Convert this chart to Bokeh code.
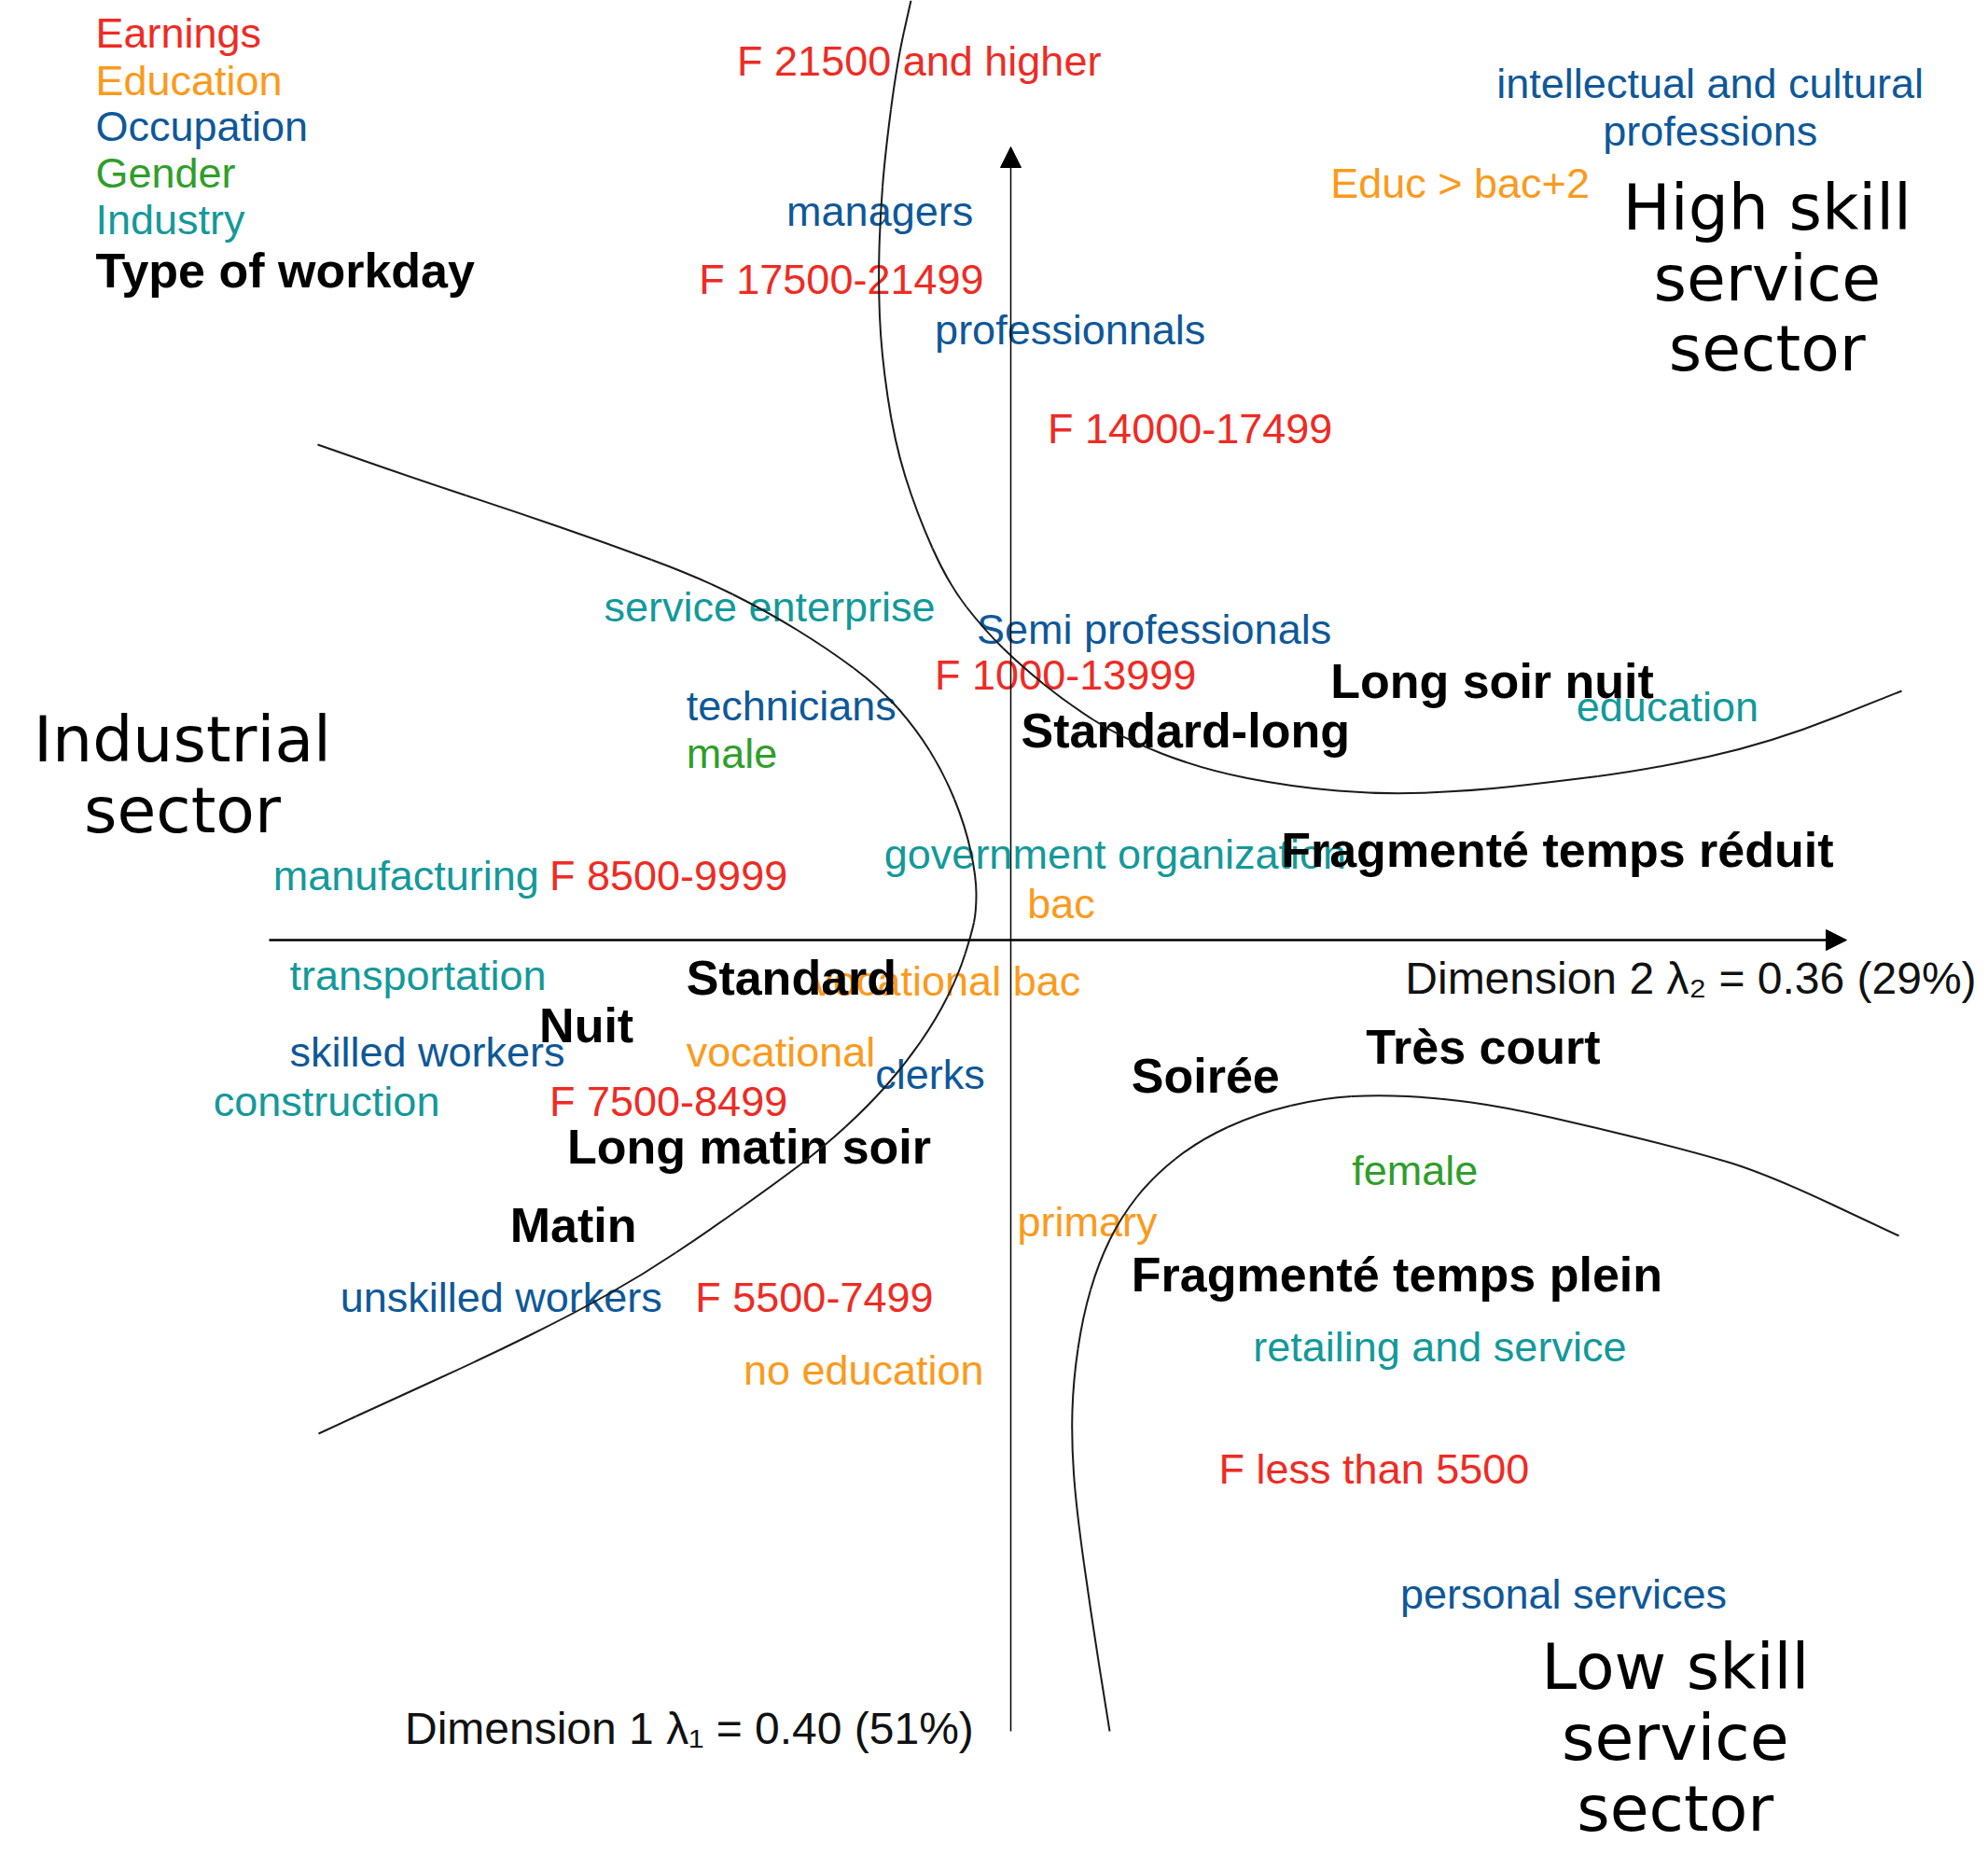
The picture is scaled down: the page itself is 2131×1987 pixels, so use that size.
from bokeh.plotting import figure
from bokeh.models import Range1d, Arrow, NormalHead, ColumnDataSource
from bokeh.core.properties import value
from bokeh.embed import file_html
from bokeh.resources import INLINE

RED = "#ee2b24"
ORANGE = "#fb9a1c"
BLUE = "#0e5899"
GREEN = "#2f9e2a"
TEAL = "#13999a"
BLACK = "#000000"

FONT = "Liberation Sans"
SECTOR_FONT = "DejaVu Sans"

# ---------------- data (correspondence-analysis map coordinates) ----------------
# x = Dimension 2, y = Dimension 1
legend_labels = ["Earnings", "Education", "Occupation", "Gender", "Industry", "Type of workday"]
legend_x = [-0.981] * 6
legend_y = [0.9717, 0.9214, 0.8725, 0.8222, 0.7719, 0.7175]

earn_labels = ["F 21500 and higher", "F 17500-21499", "F 14000-17499", "F 1000-13999",
               "F 8500-9999", "F 7500-8499", "F 5500-7499", "F less than 5500"]
earn_x = [-0.2934, -0.3342, 0.0396, -0.0814, -0.4945, -0.4945, -0.3382, 0.2231]
earn_y = [0.9418, 0.7080, 0.5476, 0.2840, 0.0693, -0.1727, -0.3833, -0.5668]

educ_labels = ["Educ > bac+2", "bac", "vocational bac", "vocational", "primary", "no education"]
educ_x = [0.3427, 0.0178, -0.2130, -0.3478, 0.0070, -0.2866]
educ_y = [0.8113, 0.0394, -0.0436, -0.1197, -0.3018, -0.4608]

occ_labels = ["intellectual and cultural\nprofessions", "managers", "professionnals",
              "Semi professionals", "technicians", "skilled workers", "clerks",
              "unskilled workers", "personal services"]
occ_x = [0.7497, -0.2404, -0.0814, -0.0365, -0.3478, -0.7731, -0.1453, -0.7188, 0.4174]
occ_y = [0.8922, 0.7814, 0.6536, 0.3329, 0.2514, -0.1197, -0.1441, -0.3833, -0.7013]
occ_align = ["center", "left", "left", "left", "left", "left", "left", "left", "left"]

gender_labels = ["male", "female"]
gender_x = [-0.3478, 0.3658]
gender_y = [0.1997, -0.2474]

ind_labels = ["service enterprise", "education", "government organization", "manufacturing",
              "transportation", "construction", "retailing and service"]
ind_x = [-0.4361, 0.6063, -0.1357, -0.7908, -0.7731, -0.8547, 0.2597]
ind_y = [0.3574, 0.2500, 0.0924, 0.0693, -0.0381, -0.1727, -0.4363]

work_labels = ["Long soir nuit", "Standard-long", "Fragmenté temps réduit", "Standard", "Nuit",
               "Long matin soir", "Matin", "Très court", "Soirée", "Fragmenté temps plein"]
work_x = [0.3427, 0.0110, 0.2897, -0.3478, -0.5054, -0.4755, -0.5367, 0.3807, 0.1293, 0.1293]
work_y = [0.2772, 0.2242, 0.0964, -0.0408, -0.0911, -0.2216, -0.3059, -0.1142, -0.1455, -0.3589]

sector_labels = ["Industrial\nsector", "High skill\nservice\nsector", "Low skill\nservice\nsector"]
sector_x = [-0.888, 0.8108, 0.7123]
sector_y = [0.1773, 0.7094, -0.8550]

axis_labels = ["Dimension 2 λ\u2082 = 0.36 (29%)", "Dimension 1 λ\u2081 = 0.40 (51%)"]
axis_label_x = [0.4228, -0.6495]
axis_label_y = [-0.0408, -0.8454]

# axis extents (Dimension 2 horizontal, Dimension 1 vertical)
dim2_extent = (-0.795, 0.896)
dim1_extent = (-0.848, 0.850)

# boundary curves separating the sectors
curve_high_x = [-0.107, -0.122, -0.135, -0.140, -0.142, -0.139, -0.125, -0.101, -0.067, -0.028,
                0.011, 0.059, 0.118, 0.205, 0.302, 0.399, 0.496, 0.577, 0.681, 0.814, 0.955]
curve_high_y = [1.007, 0.940, 0.840, 0.774, 0.707, 0.630, 0.535, 0.458, 0.382, 0.332,
                0.294, 0.255, 0.217, 0.183, 0.164, 0.156, 0.160, 0.169, 0.182, 0.211, 0.267]

curve_ind_x = [-0.743, -0.634, -0.534, -0.435, -0.335, -0.261, -0.196, -0.141, -0.102, -0.072,
               -0.049, -0.037, -0.037, -0.042, -0.056, -0.080, -0.114, -0.153, -0.201, -0.250,
               -0.323, -0.395, -0.468, -0.565, -0.662, -0.742]
curve_ind_y = [0.531, 0.493, 0.460, 0.426, 0.389, 0.352, 0.312, 0.271, 0.227, 0.179,
               0.123, 0.068, 0.031, 0.007, -0.037, -0.085, -0.134, -0.178, -0.222, -0.259,
               -0.311, -0.359, -0.400, -0.448, -0.492, -0.529]

curve_low_x = [0.952, 0.807, 0.724, 0.627, 0.530, 0.457, 0.394, 0.336, 0.264, 0.201, 0.152,
               0.118, 0.094, 0.077, 0.067, 0.065, 0.070, 0.087, 0.106]
curve_low_y = [-0.317, -0.249, -0.225, -0.201, -0.179, -0.169, -0.166, -0.169, -0.186, -0.215,
               -0.254, -0.297, -0.346, -0.404, -0.472, -0.535, -0.608, -0.729, -0.848]

# ---------------- figure ----------------
W, H = 2123, 1979
p = figure(width=W, height=H, output_backend="svg", toolbar_location=None,
           x_range=Range1d(-1.083, -1.083 + W / 1000), y_range=Range1d(1.007 - H / 1000, 1.007),
           x_axis_type=None, y_axis_type=None, min_border=0)
p.grid.visible = False
p.outline_line_color = None
p.background_fill_color = "white"
p.border_fill_color = "white"

REG = "45px"
BOLD = "52px"


def labels(xs, ys, texts, color, size=REG, style="normal", align="left", font=FONT, lh=1.0):
    src = ColumnDataSource(dict(x=xs, y=ys, text=texts))
    p.text(x="x", y="y", text="text", source=src, text_color=color,
           text_font=value(font), text_font_size=size, text_font_style=style,
           text_align=align, text_baseline="middle", text_line_height=lh)


# legend of categories
legend_colors = [RED, ORANGE, BLUE, GREEN, TEAL, BLACK]
for lab, lx, ly, col in zip(legend_labels, legend_x, legend_y, legend_colors):
    bold = lab == "Type of workday"
    labels([lx], [ly], [lab], col, size=BOLD if bold else REG, style="bold" if bold else "normal")

labels(ind_x, ind_y, ind_labels, TEAL)
labels(educ_x, educ_y, educ_labels, ORANGE)
for al in ("left", "center"):
    idx = [i for i, a in enumerate(occ_align) if a == al]
    labels([occ_x[i] for i in idx], [occ_y[i] for i in idx], [occ_labels[i] for i in idx],
           BLUE, align=al, lh=0.995)
labels(earn_x, earn_y, earn_labels, RED)
labels(gender_x, gender_y, gender_labels, GREEN)
labels(work_x, work_y, work_labels, BLACK, size=BOLD, style="bold")

labels(sector_x, sector_y, sector_labels, BLACK, size="68px", align="center",
       font=SECTOR_FONT, lh=0.96)
labels(axis_label_x, axis_label_y, axis_labels, "#111111", size="48px")

# axes as arrows
p.add_layout(Arrow(end=NormalHead(size=22, fill_color="black", line_color="black", line_width=1),
                   x_start=dim2_extent[0], y_start=0, x_end=dim2_extent[1], y_end=0,
                   line_width=2.5, line_color="black"))
p.add_layout(Arrow(end=NormalHead(size=22, fill_color="black", line_color="black", line_width=1),
                   x_start=0, y_start=dim1_extent[0], x_end=0, y_end=dim1_extent[1],
                   line_width=1.5, line_color="black"))


# curves: drawn smoothly through the read points (quadratic pieces between midpoints)
def smooth_curve(xs, ys, color="#1a1a1a", width=2):
    mx = [(xs[i] + xs[i + 1]) / 2 for i in range(len(xs) - 1)]
    my = [(ys[i] + ys[i + 1]) / 2 for i in range(len(ys) - 1)]
    p.segment(x0=[xs[0], mx[-1]], y0=[ys[0], my[-1]], x1=[mx[0], xs[-1]], y1=[my[0], ys[-1]],
              line_color=color, line_width=width)
    p.quadratic(x0=mx[:-1], y0=my[:-1], x1=mx[1:], y1=my[1:], cx=xs[1:-1], cy=ys[1:-1],
                line_color=color, line_width=width)


for cx, cy in ((curve_high_x, curve_high_y), (curve_ind_x, curve_ind_y), (curve_low_x, curve_low_y)):
    smooth_curve(cx, cy)

open("out.html", "w").write(file_html(p, INLINE))
